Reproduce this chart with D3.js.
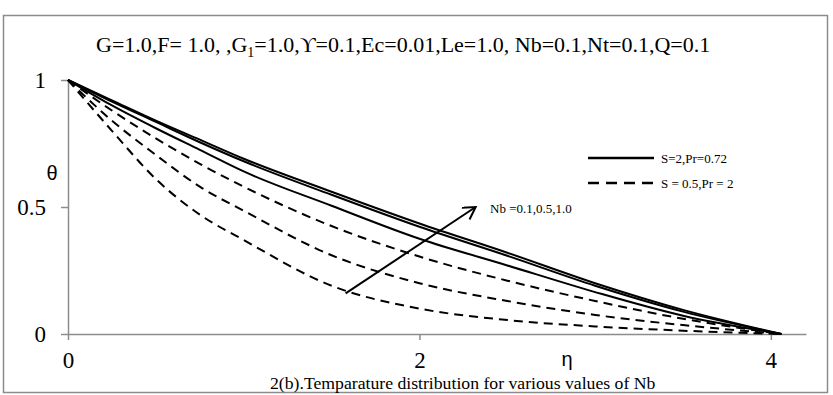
<!DOCTYPE html>
<html>
<head>
<meta charset="utf-8">
<script src="https://cdn.jsdelivr.net/npm/d3@7"></script>
<style>
  body { margin: 0; background: #fff; }
</style>
</head>
<body>
<div class="chart"></div>
<script>
// values
const eta = [0, 0.25, 0.5, 0.75, 1, 1.5, 2, 2.5, 3, 3.5, 4.06]
// S=2, Pr=0.72 (solid)
const solidNb01 = [1, 0.9, 0.81, 0.725, 0.64, 0.505, 0.375, 0.27, 0.165, 0.072, 0]
const solidNb05 = [1, 0.915, 0.835, 0.755, 0.68, 0.548, 0.422, 0.308, 0.19, 0.088, 0]
const solidNb10 = [1, 0.92, 0.84, 0.765, 0.69, 0.56, 0.435, 0.32, 0.2, 0.095, 0]
// S=0.5, Pr=2 (dashed)
const dashedNb01 = [1, 0.8, 0.61, 0.47, 0.37, 0.19, 0.1, 0.055, 0.03, 0.013, 0]
const dashedNb05 = [1, 0.84, 0.705, 0.58, 0.485, 0.31, 0.2, 0.13, 0.075, 0.035, 0]
const dashedNb10 = [1, 0.88, 0.77, 0.67, 0.58, 0.425, 0.305, 0.21, 0.13, 0.06, 0]

const xTicks = [0, 2, 4]
const yTicks = [0, 0.5, 1]
const legendLabels = ['S=2,Pr=0.72', 'S = 0.5,Pr = 2']
const arrowFrom = [1.58, 0.16]
const arrowTo = [2.32, 0.5]

const width = 833
const height = 395
const serif = '"Liberation Serif", "Times New Roman", serif'
const sans = '"Liberation Sans", Arial, sans-serif'
const axisColor = '#8c8c8c'

const svg = d3.select('.chart').append('svg')
  .attr('width', width)
  .attr('height', height)
  .attr('font-family', serif)

// outer frame
svg.append('rect')
  .attr('x', 3.5).attr('y', 15.5)
  .attr('width', 824).attr('height', 377)
  .attr('fill', 'none')
  .attr('stroke', axisColor)
  .attr('stroke-width', 1.5)

const x = d3.scaleLinear().domain([0, 4.2]).range([68, 806])
const y = d3.scaleLinear().domain([0, 1]).range([334, 80])

const gx = svg.append('g')
  .attr('transform', `translate(0,${y(0)})`)
  .call(d3.axisBottom(x).tickValues(xTicks).tickFormat(d3.format('d')).tickSize(6).tickSizeOuter(0).tickPadding(12))
const gy = svg.append('g')
  .attr('transform', `translate(${x(0)},0)`)
  .call(d3.axisLeft(y).tickValues(yTicks).tickFormat(d => d === 0.5 ? '0.5' : d3.format('d')(d)).tickSize(7).tickSizeOuter(0).tickPadding(15))

for (const g of [gx, gy]) {
  g.selectAll('path, line').attr('stroke', axisColor).attr('stroke-width', 1.5)
  g.selectAll('text').attr('font-family', serif).attr('font-size', 23).attr('fill', '#000')
}

const line = d3.line()
  .x((d, i) => x(eta[i]))
  .y(d => y(d))
  .curve(d3.curveMonotoneX)

const curves = [
  { values: solidNb01, dash: null },
  { values: solidNb05, dash: null },
  { values: solidNb10, dash: null },
  { values: dashedNb01, dash: '9,6' },
  { values: dashedNb05, dash: '9,6' },
  { values: dashedNb10, dash: '9,6' }
]

svg.append('g').selectAll('path')
  .data(curves)
  .join('path')
  .attr('d', d => line(d.values))
  .attr('fill', 'none')
  .attr('stroke', '#000')
  .attr('stroke-width', 2)
  .attr('stroke-dasharray', d => d.dash)

// arrow for increasing Nb
svg.append('defs').append('marker')
  .attr('id', 'head')
  .attr('markerUnits', 'userSpaceOnUse')
  .attr('markerWidth', 18).attr('markerHeight', 18)
  .attr('refX', 13).attr('refY', 7)
  .attr('orient', 'auto')
  .append('path')
  .attr('d', 'M1,0 L13,7 L1,14')
  .attr('fill', 'none')
  .attr('stroke', '#000')
  .attr('stroke-width', 2)

svg.append('line')
  .attr('x1', x(arrowFrom[0])).attr('y1', y(arrowFrom[1]))
  .attr('x2', x(arrowTo[0])).attr('y2', y(arrowTo[1]))
  .attr('stroke', '#000')
  .attr('stroke-width', 2)
  .attr('marker-end', 'url(#head)')

svg.append('text')
  .attr('x', 490).attr('y', 213)
  .attr('font-size', 13)
  .text('Nb =0.1,0.5,1.0')

// legend
const legend = svg.append('g')
  .selectAll('g')
  .data(legendLabels)
  .join('g')
  .attr('transform', (d, i) => `translate(588,${158 + i * 25})`)
legend.append('line')
  .attr('x1', 0).attr('x2', 66)
  .attr('stroke', '#000')
  .attr('stroke-width', 2.5)
  .attr('stroke-dasharray', (d, i) => i ? '11,7' : null)
legend.append('text')
  .attr('x', 73).attr('dy', '0.35em')
  .attr('font-size', 13)
  .text(d => d)

// title with subscript
const title = svg.append('text')
  .attr('x', 96).attr('y', 52)
  .attr('font-size', 22)
title.append('tspan').text('G=1.0,F= 1.0, ,G')
title.append('tspan').attr('font-size', 14).attr('dy', 5).text('1')
title.append('tspan').attr('dy', -5).text('=1.0,ϒ=0.1,Ec=0.01,Le=1.0, Nb=0.1,Nt=0.1,Q=0.1')

// axis titles
svg.append('text')
  .attr('x', 52).attr('y', 180)
  .attr('font-family', sans)
  .attr('font-size', 20)
  .attr('text-anchor', 'middle')
  .text('θ')
svg.append('text')
  .attr('x', 567).attr('y', 366)
  .attr('font-family', sans)
  .attr('font-size', 20)
  .attr('text-anchor', 'middle')
  .text('η')

// caption
svg.append('text')
  .attr('x', 270).attr('y', 389)
  .attr('font-size', 17.7)
  .text('2(b).Temparature distribution for various values of  Nb')
</script>
</body>
</html>
